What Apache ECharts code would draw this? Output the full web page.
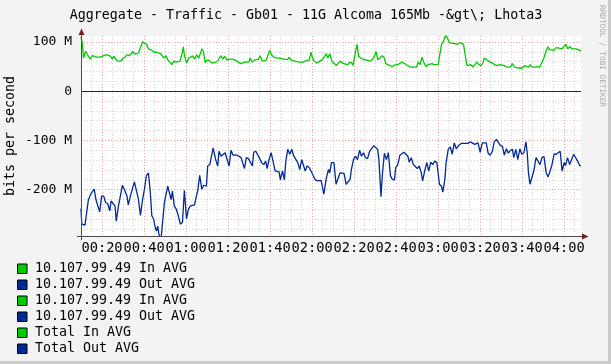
<!DOCTYPE html>
<html><head><meta charset="utf-8">
<script src="https://cdn.jsdelivr.net/npm/echarts@6/dist/echarts.min.js"></script>
<style>html,body{margin:0;padding:0;background:#f3f3f3}#c{width:611px;height:364px}</style>
</head><body><div id="c"></div><script>
// time in minutes after 00:00, values in Mbit/s
const X_MIN = 10, X_MAX = 248;
const Y_MIN = -294, Y_MAX = 112;
const xMajorTicks = [20,40,60,80,100,120,140,160,180,200,220,240];
const xMinorTicks = [15,25,30,35,45,50,55,65,70,75,85,90,95,105,110,115,125,130,135,145,150,155,165,170,175,185,190,195,205,210,215,225,230,235,245];
const yMajorTicks = [-200,-100,0,100];
const yMinorTicks = [-280,-260,-240,-220,-180,-160,-140,-120,-80,-60,-40,-20,20,40,60,80];

const inTimes = [10,10.6,11.2,12.2,12.8,13.5,14.4,15.4,16.3,17.3,
18.2,19.2,20.2,21.1,22.1,23.0,24.0,24.9,25.6,26.5,
27.5,28.4,29.1,30.0,31.0,31.9,32.9,33.9,34.5,35.4,
36.4,37.4,38.3,39.3,40.2,41.2,42.1,43.1,44.0,45.0,
46.0,46.9,47.9,48.8,49.5,50.4,51.4,52.3,53.3,54.2,
55.2,56.1,57.1,58.1,58.7,59.3,60.3,61.2,62.2,63.2,
64.1,65.1,66.0,66.7,67.6,68.2,69.2,69.8,70.8,71.4,
72.4,73.3,74.3,75.3,75.9,76.5,77.5,78.4,79.4,80.4,
81.3,82.3,83.2,84.2,85.1,86.1,87.0,88.0,88.9,89.9,
90.5,91.5,92.5,93.4,94.4,95.3,96.3,97.2,98.2,99.1,
99.8,100.7,101.7,102.6,103.6,104.6,105.5,106.5,107.4,108.4,
109.0,110.0,110.9,111.9,112.8,113.8,114.7,115.7,116.7,117.6,
118.6,119.5,120.2,121.1,122.1,123.0,
124.9,125.8,126.8,127.4,128.4,129.0,129.6,130.6,131.6,132.5,
133.2,134.1,135.1,136.0,137.0,137.9,138.9,139.5,140.5,141.4,
142.1,143.0,144.0,144.9,145.9,146.8,147.8,148.8,149.7,150.4,
151.3,152.3,153.2,154.2,155.1,156.1,157.0,158.0,158.9,159.9,
160.9,161.8,162.8,163.7,164.7,165.6,166.6,168.2,169.8,170.4,
171.4,172.3,173.3,174.2,175.2,176.1,177.1,178.1,179.0,180.0,
180.9,181.6,182.5,183.5,184.4,185.4,186.3,187.3,188.2,189.2,
190.2,191.1,192.1,192.7,193.7,194.6,195.6,196.5,197.5,198.4,
199.4,200.4,201.3,201.9,202.9,203.9,204.8,205.8,206.7,207.7,
208.6,209.6,210.5,211.5,212.5,213.4,214.4,215.3,216.3,217.2,
218.2,219.1,220.1,221.1,222.0,223.0,223.9,224.6,225.2,226.1,
227.4,228.4,229.3,230.3,231.2,232.2,233.1,234.1,235.1,236.0,
237.0,237.9,238.9,239.8,240.8,241.7,242.7,243.7,244.6,245.6,
246.5,247.5,248];
const inValues = [110,98,67,81,79,71,65,72,69,69,
67,69,71,72,74,74,71,65,71,65,
61,65,61,67,69,74,72,76,81,76,
76,78,78,100,100,95,86,84,81,79,
79,78,76,72,67,72,63,59,54,61,
59,63,61,76,90,71,57,67,69,72,
65,74,67,69,86,81,57,63,63,67,
57,61,59,63,61,72,65,71,63,65,
61,65,61,61,57,56,57,59,61,59,
67,59,63,63,65,72,61,61,63,61,
83,74,69,69,67,67,65,65,67,64,
69,63,65,61,59,59,61,59,61,59,
63,79,67,61,57,61,
64,63,76,67,76,76,59,56,52,54,
61,61,56,54,54,59,57,52,76,95,
71,67,65,65,63,61,61,65,71,81,
64,67,72,69,56,54,54,50,52,54,
54,57,59,57,54,50,49,49,49,59,
54,69,57,50,54,54,56,54,56,54,
56,95,101,113,108,98,101,97,101,95,
99,95,95,78,52,54,54,49,54,59,
54,52,57,67,65,61,57,57,56,52,
54,54,50,52,49,49,49,56,49,50,
47,49,47,52,49,49,54,49,52,49,
50,49,49,67,79,90,84,84,83,88,
88,84,86,90,95,86,90,86,88,86,
90,83,81];

const outTimes = [10,10.4,11.9,12.9,13.5,14.4,15.4,16.3,17.1,17.9,
18.9,19.8,20.8,21.7,22.7,23.7,24.3,25.2,26.2,26.8,
27.8,28.7,29.7,30.6,31.9,32.5,33.5,34.4,35.4,36.3,
37.3,38.3,39.2,40.2,41.1,42.1,43.0,43.7,44.6,45.2,
45.9,46.5,47.1,48.1,48.9,49.7,50.3,51.3,51.9,52.9,
53.5,54.4,55.4,56.3,57.3,58.3,59.2,60.2,61.1,62.1,
63.0,64.0,64.9,65.6,66.5,67.5,68.4,
69.7,70.3,71.3,72.2,72.9,73.5,74.1,75.1,75.7,76.7,
77.6,78.6,79.5,80.5,81.4,82.4,83.3,84.3,85.2,86.2,
87.1,87.8,88.7,89.7,90.6,91.6,92.2,93.2,94.1,95.1,
96.0,97.0,97.9,98.6,99.5,100.5,101.4,102.4,103.3,104.3,
104.9,105.9,106.8,107.5,108.4,109.4,110.3,111.3,112.2,113.2,
114.1,115.1,116.0,116.7,117.6,118.6,119.5,120.5,121.4,122.4,
123.3,124.3,124.9,125.6,126.2,126.8,127.8,128.4,129.2,
130.4,131.4,132.3,133.3,134.2,135.2,136.2,137.1,138.1,138.7,
139.7,140.6,141.6,142.6,143.5,144.5,145.4,146.4,147.4,148.3,
149.3,150.2,151.2,151.8,152.8,153.4,154.4,155.4,156.3,157.3,
158.2,159.2,159.8,160.8,161.8,162.7,163.7,164.6,165.6,166.2,
167.2,168.2,169.1,170.1,171.0,172.0,172.6,173.6,174.6,175.5,
176.5,177.4,178.4,179.4,180.0,180.6,181.6,182.2,183.2,183.8,
184.8,185.8,186.7,187.7,188.6,
189.8,191.0,192.6,194.2,195.2,196.2,197.4,199.0,200.0,201.0,
201.9,202.9,203.8,204.8,205.8,206.7,207.7,208.6,209.6,210.6,
211.5,212.5,213.4,214.4,215.4,216.0,217.0,217.9,218.9,219.8,
220.8,221.8,222.4,223.0,223.7,224.6,225.6,226.6,227.5,228.5,
229.4,230.4,231.4,232.3,233.3,234.2,235.2,236.2,237.1,238.1,
239.0,240.0,240.6,241.6,242.6,243.5,244.5,245.4,246.4,247.4,
248.0];
const outValues = [-238,-270,-272,-240,-221,-211,-204,-199,-220,-223,
-245,-213,-213,-226,-228,-243,-223,-220,-233,-264,
-234,-233,-191,-199,-213,-231,-213,-216,-184,-180,
-218,-252,-223,-199,-172,-166,-206,-253,-260,-274,
-284,-274,-291,-300,-300,-226,-213,-193,-189,-220,
-203,-233,-240,-253,-270,-266,-201,-259,-240,-233,
-234,-231,-233,-201,-171,-199,-191,
-193,-152,-149,-145,-115,-117,-139,-152,-122,-132,
-132,-125,-122,-152,-120,-130,-132,-130,-133,-135,
-139,-157,-135,-137,-135,-152,-124,-122,-124,-137,
-145,-149,-142,-157,-139,-125,-142,-162,-166,-164,
-180,-162,-180,-142,-118,-128,-118,-132,-132,-145,
-159,-139,-135,-162,-152,-155,-162,-171,-179,-182,
-182,-181,-184,-209,-209,-176,-159,-166,-145,
-145,-189,-193,-166,-167,-167,-189,-189,-179,-159,
-139,-132,-139,-120,-132,-125,-135,-137,-122,-118,
-111,-115,-118,-139,-214,-172,-126,-139,-125,-172,
-179,-180,-155,-149,-130,-128,-124,-128,-132,-144,
-135,-149,-149,-157,-152,-166,-182,-162,-145,-162,
-144,-149,-142,-145,-166,-189,-193,-205,-179,-145,
-118,-113,-128,-105,-117,
-110,-106,-106,-106,-103,-105,-108,-105,-124,-105,
-106,-105,-126,-130,-122,-103,-98,-95,-110,-112,
-130,-117,-126,-120,-118,-135,-118,-139,-117,-128,
-125,-103,-125,-166,-189,-189,-161,-135,-139,-149,
-135,-133,-165,-174,-162,-149,-128,-128,-125,-122,
-162,-145,-151,-135,-149,-139,-128,-128,-142,-151,
-151];

const titleText = 'Aggregate - Traffic - Gb01 - 11G Alcoma 165Mb -&gt\\; Lhota3';
const yAxisTitle = 'bits per second';
const watermark = 'RRDTOOL / TOBI OETIKER';
const legendLabels = ['10.107.99.49 In AVG','10.107.99.49 Out AVG','10.107.99.49 In AVG','10.107.99.49 Out AVG','Total In AVG','Total Out AVG'];
const IN_COLOR = '#00cc00', OUT_COLOR = '#002a97';
const legendColors = [IN_COLOR, OUT_COLOR, IN_COLOR, OUT_COLOR, IN_COLOR, OUT_COLOR];

const FONT = 'DejaVu Sans Mono';
const pad = n => (n < 10 ? '0' : '') + n;
const fmtTime = t => pad(Math.floor(t / 60)) + ':' + pad(Math.round(t % 60));
const fmtBits = v => v === 0 ? '0' : v + ' M';

const chart = echarts.init(document.getElementById('c'), null, {renderer: 'canvas'});

const graphic = [
  {type:'rect', shape:{x:608, y:0, width:3, height:364}, style:{fill:'#cbcbcb'}, silent:true},
  {type:'rect', shape:{x:0, y:361, width:611, height:3}, style:{fill:'#cbcbcb'}, silent:true},
  {type:'text', x:306, y:16, style:{text:titleText, font:'13.3px "DejaVu Sans Mono"', fill:'#000', align:'center', verticalAlign:'middle', textAlign:'center', textVerticalAlign:'middle'}},
  {type:'text', x:11, y:136, rotation:Math.PI/2, style:{text:yAxisTitle, font:'13.3px "DejaVu Sans Mono"', fill:'#000', align:'center', verticalAlign:'middle', textAlign:'center', textVerticalAlign:'middle'}},
  {type:'text', x:602, y:56, rotation:-Math.PI/2, style:{text:watermark, font:'7.7px "DejaVu Sans Mono"', fill:'#a8a8a8', align:'center', verticalAlign:'middle', textAlign:'center', textVerticalAlign:'middle'}},
  // axis extensions and arrow heads
  {type:'line', shape:{x1:81.5, y1:30, x2:81.5, y2:240}, style:{stroke:'#4d4d4d', lineWidth:1}, z:10},
  {type:'line', shape:{x1:77, y1:236.5, x2:586, y2:236.5}, style:{stroke:'#4d4d4d', lineWidth:1}, z:10},
  {type:'polygon', shape:{points:[[78.5,35],[84.5,35],[81.5,28.5]]}, style:{fill:'#7f1a1a'}, z:11},
  {type:'polygon', shape:{points:[[582,233.5],[582,239.5],[588.5,236.5]]}, style:{fill:'#7f1a1a'}, z:11}
];
legendLabels.forEach((lab, i) => {
  const cy = 268.5 + i * 16;
  graphic.push({type:'rect', shape:{x:17.5, y:cy - 4.5, width:9.5, height:9.5}, style:{fill:legendColors[i], stroke:'#000', lineWidth:1}});
  graphic.push({type:'text', x:35, y:cy, style:{text:lab, font:'13.3px "DejaVu Sans Mono"', fill:'#000', align:'left', verticalAlign:'middle', textAlign:'left', textVerticalAlign:'middle'}});
});

const minorLine = {show:true, lineStyle:{color:'#d2d2d2', type:[1,2], width:1}};
const majorLine = {show:true, lineStyle:{color:'#f0a0a0', type:[1,2], width:1}};

chart.setOption({
  animation:false,
  backgroundColor:'#f3f3f3',
  grid:{left:81, right:30, top:36, bottom:128, show:true, backgroundColor:'#ffffff', borderWidth:0},
  xAxis:[
    {type:'value', position:'top', min:X_MIN, max:X_MAX, axisLine:{show:false}, axisTick:{show:false, customValues:xMinorTicks}, axisLabel:{show:false}, splitLine:minorLine},
    {type:'value', position:'bottom', min:X_MIN, max:X_MAX, axisLine:{show:false, onZero:false}, axisTick:{show:false, customValues:xMajorTicks},
     axisLabel:{customValues:xMajorTicks, formatter:fmtTime, fontFamily:FONT, fontSize:13.7, color:'#000', margin:5}, splitLine:majorLine}
  ],
  yAxis:[
    {type:'value', position:'right', min:Y_MIN, max:Y_MAX, axisLine:{show:false}, axisTick:{show:false, customValues:yMinorTicks}, axisLabel:{show:false}, splitLine:minorLine},
    {type:'value', position:'left', min:Y_MIN, max:Y_MAX, axisLine:{show:false, onZero:false}, axisTick:{show:false, customValues:yMajorTicks},
     axisLabel:{customValues:yMajorTicks, formatter:fmtBits, fontFamily:FONT, fontSize:13, color:'#000', margin:9}, splitLine:majorLine}
  ],
  series:[
    {name:'Total In AVG', type:'line', xAxisIndex:1, yAxisIndex:1, showSymbol:false, clip:true,
     data: inTimes.map((t, i) => [t, inValues[i]]), lineStyle:{color:IN_COLOR, width:1.3}, itemStyle:{color:IN_COLOR}},
    {name:'Total Out AVG', type:'line', xAxisIndex:1, yAxisIndex:1, showSymbol:false, clip:true,
     data: outTimes.map((t, i) => [t, outValues[i]]), lineStyle:{color:OUT_COLOR, width:1.3}, itemStyle:{color:OUT_COLOR},
     markLine:{silent:true, symbol:'none', label:{show:false}, lineStyle:{color:'#1e1e70', type:'solid', width:1}, data:[{yAxis:0}]}}
  ],
  graphic: graphic
});
</script></body></html>
